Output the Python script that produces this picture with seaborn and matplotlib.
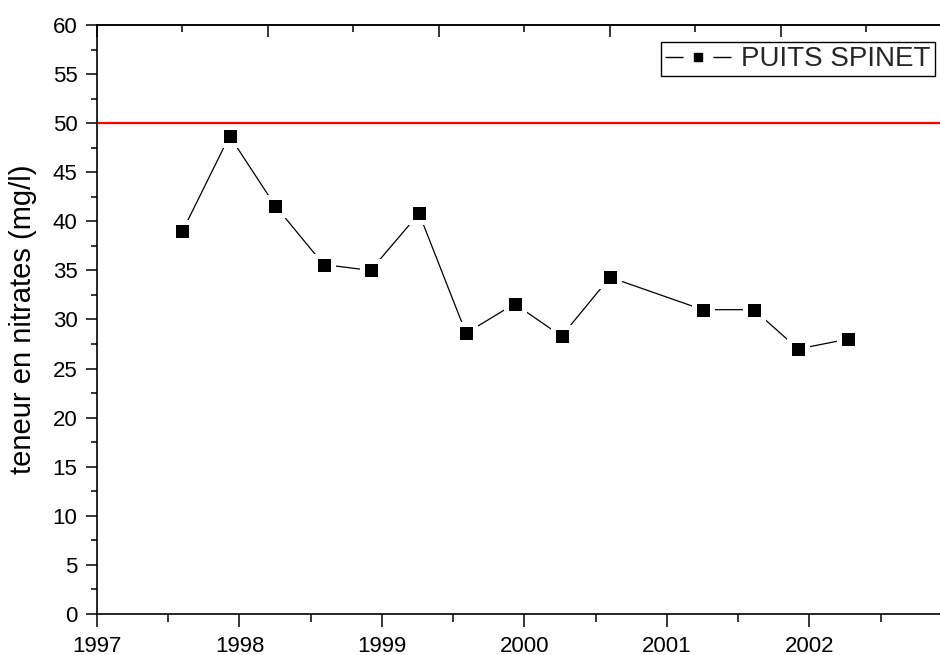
import matplotlib
matplotlib.use('Agg')
import matplotlib.pyplot as plt
from matplotlib.lines import Line2D
from matplotlib.legend_handler import HandlerTuple
from matplotlib.ticker import MultipleLocator
import seaborn as sns
import pandas as pd

# prelevements puits Spinet
annees = [1997.60, 1997.93, 1998.25, 1998.59, 1998.92, 1999.26, 1999.59,
          1999.93, 2000.26, 2000.60, 2001.25, 2001.61, 2001.92, 2002.27]
nitrates = [39.0, 48.7, 41.6, 35.6, 35.0, 40.8, 28.6,
            31.6, 28.3, 34.3, 31.0, 31.0, 27.0, 28.0]
seuil = 50
serie = 'PUITS SPINET'
ylabel = 'teneur en nitrates (mg/l)'

df = pd.DataFrame({'annee': annees, 'nitrates': nitrates})

sns.set_theme(style='ticks')
plt.rcParams['font.family'] = ['Liberation Sans', 'DejaVu Sans']

fig = plt.figure(figsize=(9.4, 6.55), dpi=100)
ax = fig.add_axes([0.10319, 0.06260, 0.90957, 0.89924])

ax.axhline(seuil, color='red', lw=1.6, zorder=1)
sns.lineplot(data=df, x='annee', y='nitrates', ax=ax, color='black', lw=0.9,
             marker='s', markersize=13, markerfacecolor='black',
             markeredgecolor='white', markeredgewidth=3.6, zorder=3)

ax.set_xlim(1997, 2003)
ax.set_ylim(0, 60)
ax.xaxis.set_major_locator(MultipleLocator(1))
ax.xaxis.set_minor_locator(MultipleLocator(0.5))
ax.yaxis.set_major_locator(MultipleLocator(5))
ax.yaxis.set_minor_locator(MultipleLocator(2.5))
ax.set_xticks([1997, 1998, 1999, 2000, 2001, 2002])
ax.set_xticklabels(['1997', '1998', '1999', '2000', '2001', '2002'])

ax.tick_params(which='both', direction='out', top=False, right=False,
               color='black', width=1.1, labelsize=16, labelcolor='black')
ax.tick_params(axis='x', which='major', length=9, pad=6.5)
ax.tick_params(axis='x', which='minor', length=5.5)
ax.tick_params(axis='y', which='major', length=8, pad=6)
ax.tick_params(axis='y', which='minor', length=4.3)

for s in ax.spines.values():
    s.set_color('black')
    s.set_linewidth(1.2)

# axe du haut (echelle differente) et axe de droite, graduations internes
top = ax.secondary_xaxis('top', functions=(lambda x: (x - 1997) * 5 / 6,
                                           lambda t: t * 6 / 5 + 1997))
top.xaxis.set_major_locator(MultipleLocator(1))
top.xaxis.set_minor_locator(MultipleLocator(0.5))
top.tick_params(which='both', direction='in', labeltop=False, color='black', width=1.1)
top.tick_params(which='major', length=8.6)
top.tick_params(which='minor', length=5)
top.spines['top'].set_linewidth(1.2)

right = ax.secondary_yaxis('right')
right.yaxis.set_major_locator(MultipleLocator(5))
right.yaxis.set_minor_locator(MultipleLocator(2.5))
right.tick_params(which='both', direction='in', labelright=False, color='black', width=1.1)
right.tick_params(which='major', length=8.6)
right.tick_params(which='minor', length=5)

ax.set_xlabel('')
ax.set_ylabel(ylabel, fontsize=21, color='black', labelpad=11)

# legende facon Origin : trait - carre - trait
h_line = Line2D([], [], color='black', lw=1, dashes=(13, 21.5))
h_mark = Line2D([], [], color='black', ls='none', marker='s', markersize=5.4)
leg = ax.legend([(h_line, h_mark)], [serie],
                handler_map={tuple: HandlerTuple(ndivide=1, pad=0)},
                loc='upper right', bbox_to_anchor=(0.980, 0.971), borderaxespad=0,
                fontsize=20, fancybox=False, edgecolor='black', framealpha=1,
                handlelength=2.375, handletextpad=0.36, borderpad=0.15)
leg.get_frame().set_linewidth(1)

fig.savefig('out.png', dpi=100)
